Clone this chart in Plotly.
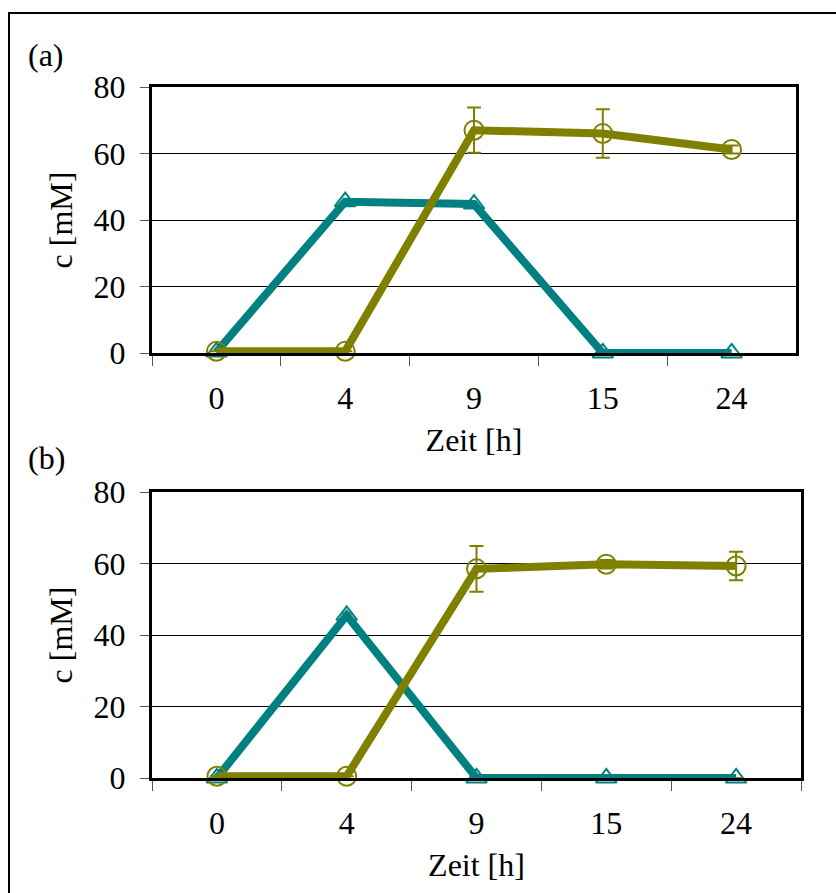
import plotly.graph_objects as go

# Sampling times (categorical axis)
zeit = ["0", "4", "9", "15", "24"]

# Panel (a)
a_teal = [0.3, 45.5, 44.8, 0.0, 0.0]
a_olive = [0.5, 0.5, 67.0, 66.0, 61.2]
a_olive_err = [0.0, 0.0, 6.8, 7.3, 1.2]

# Panel (b)
b_teal = [0.0, 45.5, 0.0, 0.0, 0.0]
b_teal_err = [0.0, 0.6, 0.0, 0.0, 0.0]
b_olive = [0.5, 0.5, 58.5, 59.8, 59.3]
b_olive_err = [0.0, 0.0, 6.4, 1.2, 4.0]

y_ticks = [0, 20, 40, 60, 80]

W, H = 836, 893
TEAL = "#008080"
OLIVE = "#808000"
FONT = "Liberation Serif"
FS = 32


def px_x(v):
    return v / W


def px_y(v):
    return 1 - v / H


def teal_trace(y, xa, ya, err=None):
    return go.Scatter(
        x=zeit, y=y, mode="lines+markers", xaxis=xa, yaxis=ya,
        line=dict(color=TEAL, width=8),
        marker=dict(symbol="triangle-up-open", size=18, color=TEAL,
                    line=dict(color=TEAL, width=2)),
        error_y=(dict(type="data", array=err, visible=True, color=OLIVE,
                      thickness=2, width=5) if err is not None else None),
        showlegend=False, cliponaxis=False)


def olive_trace(y, err, xa, ya):
    return go.Scatter(
        x=zeit, y=y, mode="lines+markers", xaxis=xa, yaxis=ya,
        line=dict(color=OLIVE, width=8),
        marker=dict(symbol="circle-open", size=19, color=OLIVE,
                    line=dict(color=OLIVE, width=2)),
        error_y=dict(type="data", array=err, visible=True, color=OLIVE,
                     thickness=2, width=7),
        showlegend=False, cliponaxis=False)


fig = go.Figure()
fig.add_trace(teal_trace(a_teal, "x", "y"))
fig.add_trace(olive_trace(a_olive, a_olive_err, "x", "y"))
fig.add_trace(teal_trace(b_teal, "x2", "y2", b_teal_err))
fig.add_trace(olive_trace(b_olive, b_olive_err, "x2", "y2"))

xaxis_common = dict(
    type="category", categoryorder="array", categoryarray=zeit,
    range=[-0.5, len(zeit) - 0.5],
    tickson="boundaries", ticks="outside", ticklen=10, tickwidth=1,
    tickcolor="#555555", showline=True, linecolor="black", linewidth=3,
    mirror=True, showgrid=False, zeroline=False, automargin=False,
    ticklabelstandoff=15,
    tickfont=dict(family=FONT, size=FS, color="black"),
    title=dict(text="Zeit [h]", font=dict(family=FONT, size=FS, color="black"),
               standoff=14),
)
yaxis_common = dict(
    range=[0, 80], tickvals=y_ticks, ticks="outside", ticklen=9,
    tickwidth=1, tickcolor="#555555", showline=True, linecolor="black",
    linewidth=3, mirror=True, showgrid=True, gridcolor="black",
    gridwidth=1, zeroline=False, automargin=False,
    ticklabelstandoff=8,
    tickfont=dict(family=FONT, size=FS, color="black"),
    title=dict(text="c [mM]", font=dict(family=FONT, size=FS, color="black"),
               standoff=12),
)

fig.update_layout(
    width=W, height=H, margin=dict(l=0, r=0, t=0, b=0, autoexpand=False),
    paper_bgcolor="white", plot_bgcolor="white",
    font=dict(family=FONT, size=FS, color="black"),
    xaxis=dict(domain=[px_x(152), px_x(796)], anchor="y", **xaxis_common),
    yaxis=dict(domain=[px_y(353), px_y(87)], anchor="x", **yaxis_common),
    xaxis2=dict(domain=[px_x(152), px_x(801)], anchor="y2", **xaxis_common),
    yaxis2=dict(domain=[px_y(778), px_y(492)], anchor="x2", **yaxis_common),
    shapes=[dict(type="rect", xref="paper", yref="paper",
                 x0=px_x(9), y0=px_y(13), x1=1.05, y1=-0.05,
                 line=dict(color="black", width=2), fillcolor="rgba(0,0,0,0)",
                 layer="below")],
    annotations=[
        dict(text="(a)", xref="paper", yref="paper", x=px_x(26), y=px_y(55),
             xanchor="left", yanchor="middle", showarrow=False,
             font=dict(family=FONT, size=FS, color="black")),
        dict(text="(b)", xref="paper", yref="paper", x=px_x(26), y=px_y(458),
             xanchor="left", yanchor="middle", showarrow=False,
             font=dict(family=FONT, size=FS, color="black")),
    ],
)

fig.write_html("out.html")
